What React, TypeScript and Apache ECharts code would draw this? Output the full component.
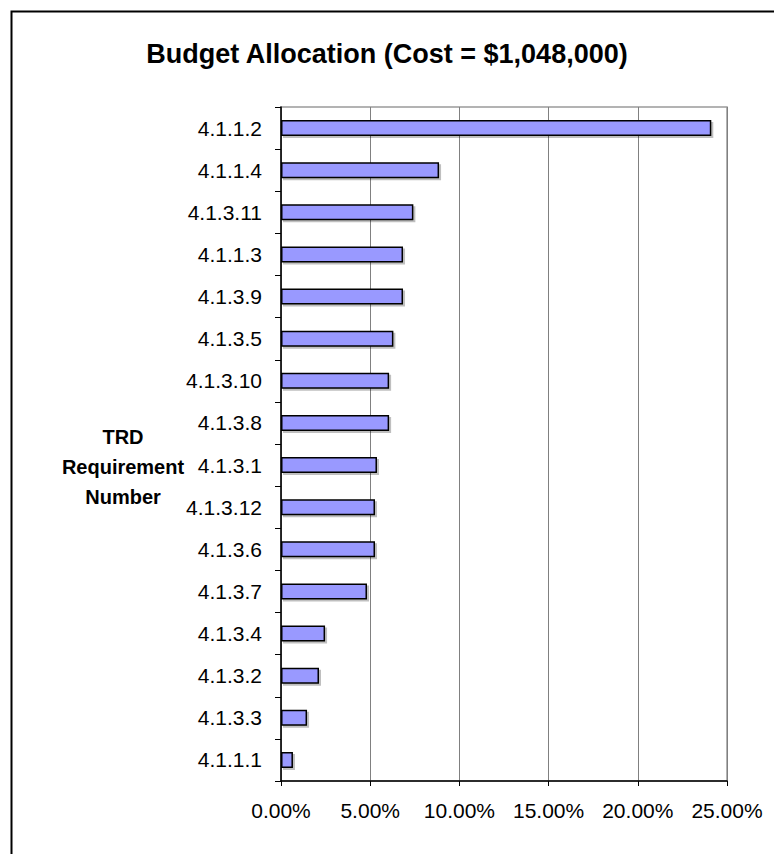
import React, { useEffect, useRef } from "react";
import * as echarts from "echarts";

const chartTitle = "Budget Allocation (Cost = $1,048,000)";
const axisName = "TRD\nRequirement\nNumber";
const categories = [
  "4.1.1.2", "4.1.1.4", "4.1.3.11", "4.1.1.3", "4.1.3.9", "4.1.3.5", "4.1.3.10", "4.1.3.8",
  "4.1.3.1", "4.1.3.12", "4.1.3.6", "4.1.3.7", "4.1.3.4", "4.1.3.2", "4.1.3.3", "4.1.1.1",
];
const shares = [
  24.12, 8.86, 7.42, 6.84, 6.84, 6.3, 6.06, 6.06,
  5.38, 5.27, 5.27, 4.82, 2.47, 2.13, 1.46, 0.67,
];
const xTicks = [0, 5, 10, 15, 20, 25];

export default function App() {
  const ref = useRef<HTMLDivElement>(null);
  useEffect(() => {
    if (!ref.current) return;
    const chart = echarts.init(ref.current, null, { renderer: "svg" });
    const font = "'Liberation Sans', Arial, sans-serif";
    chart.setOption({
      animation: false,
      backgroundColor: "#ffffff",
      title: {
        text: chartTitle,
        left: "center",
        top: 35,
        textStyle: { fontFamily: font, fontSize: 27, fontWeight: "bold", color: "#000" },
      },
      graphic: [
        {
          type: "rect",
          left: 9,
          top: 9,
          shape: { width: 800, height: 900 },
          style: { fill: "none", stroke: "#000", lineWidth: 2 },
          z: -10,
          silent: true,
        },
        {
          type: "text",
          x: 123,
          y: 467,
          style: {
            text: axisName,
            font: "bold 20px " + font,
            fill: "#000",
            align: "center",
            verticalAlign: "middle",
            lineHeight: 30,
          },
        },
      ],
      grid: {
        left: 281,
        right: 47,
        top: 107,
        bottom: 73,
        show: true,
        borderColor: "#9a9a9a",
        borderWidth: 1.5,
      },
      xAxis: {
        type: "value",
        min: xTicks[0],
        max: xTicks[xTicks.length - 1],
        interval: 5,
        axisLine: { show: true, lineStyle: { color: "#000", width: 1.5 } },
        axisTick: { show: true, length: 5, lineStyle: { color: "#000" } },
        splitLine: { show: true, lineStyle: { color: "#808080", width: 1 } },
        axisLabel: {
          margin: 19,
          fontFamily: font,
          fontSize: 21,
          color: "#000",
          formatter: (v: number) => v.toFixed(2) + "%",
        },
      },
      yAxis: {
        type: "category",
        data: categories,
        inverse: true,
        axisLine: { show: true, lineStyle: { color: "#000", width: 1.5 } },
        axisTick: { show: true, length: 6, alignWithLabel: false, lineStyle: { color: "#000" } },
        splitLine: { show: false },
        axisLabel: { margin: 19, fontFamily: font, fontSize: 21, color: "#000" },
      },
      series: [
        {
          type: "bar",
          data: shares,
          barWidth: 16,
          itemStyle: {
            color: "#9999ff",
            borderColor: "#000",
            borderWidth: 1.5,
            shadowColor: "rgba(0,0,0,0.25)",
            shadowOffsetX: 2,
            shadowOffsetY: 2,
            shadowBlur: 1,
          },
        },
      ],
    });
    return () => chart.dispose();
  }, []);
  return (
    <div
      ref={ref}
      style={{ position: "absolute", left: 0, top: 0, width: 774, height: 854 }}
    />
  );
}
